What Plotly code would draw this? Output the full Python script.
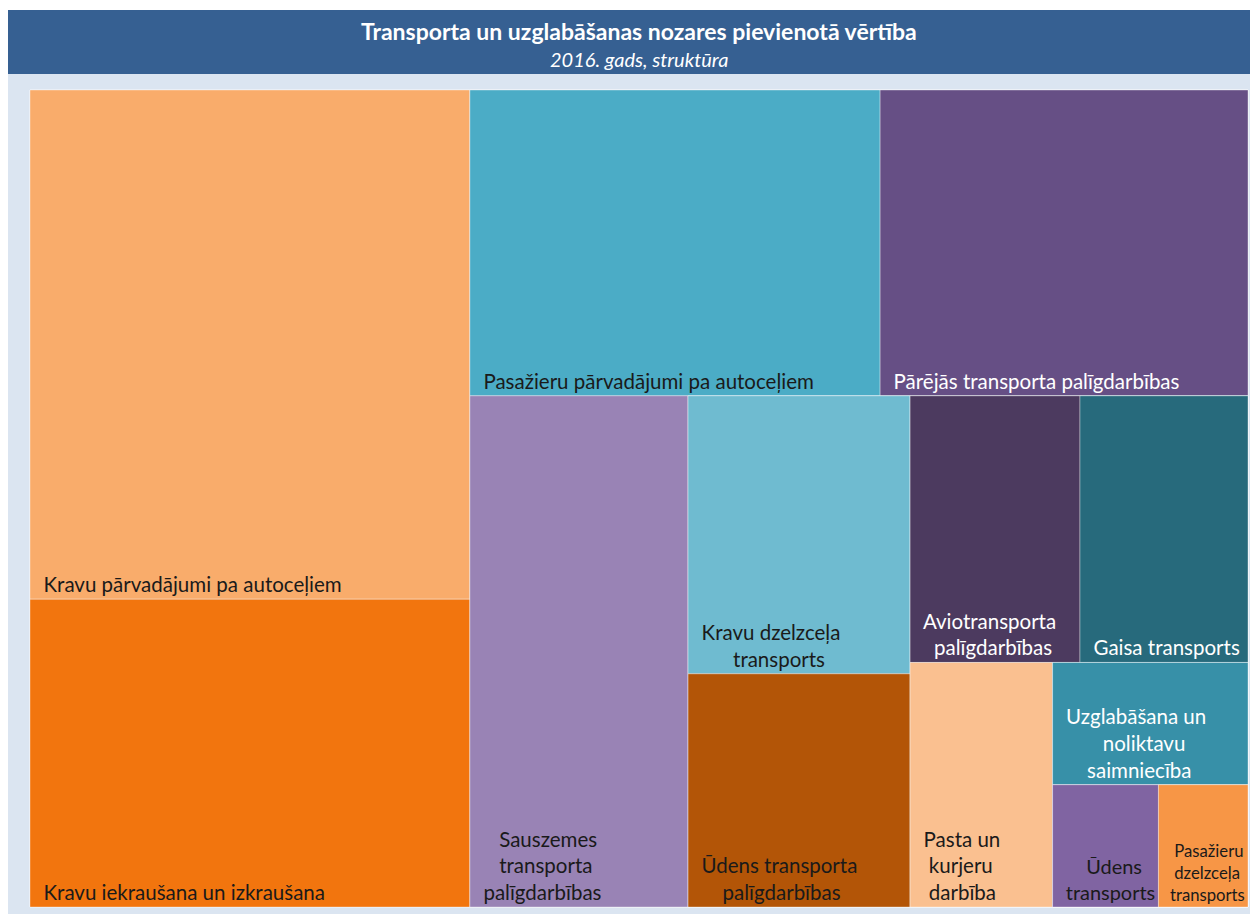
import plotly.graph_objects as go

# ---------------- data ----------------
categories = [
    "Kravu pārvadājumi pa autoceļiem",
    "Kravu iekraušana un izkraušana",
    "Pasažieru pārvadājumi pa autoceļiem",
    "Pārējās transporta palīgdarbības",
    "Sauszemes transporta palīgdarbības",
    "Kravu dzelzceļa transports",
    "Ūdens transporta palīgdarbības",
    "Aviotransporta palīgdarbības",
    "Gaisa transports",
    "Pasta un kurjeru darbība",
    "Uzglabāšana un noliktavu saimniecība",
    "Ūdens transports",
    "Pasažieru dzelzceļa transports",
]
values = [22.5, 13.6, 12.6, 11.3, 11.2, 6.2, 5.2, 4.55, 4.5, 3.5, 2.4, 1.3, 1.1]
tile_lines = [
    ["Kravu pārvadājumi pa autoceļiem"],
    ["Kravu iekraušana un izkraušana"],
    ["Pasažieru pārvadājumi pa autoceļiem"],
    ["Pārējās transporta palīgdarbības"],
    ["Sauszemes", "transporta", "palīgdarbības"],
    ["Kravu dzelzceļa", "transports"],
    ["Ūdens transporta", "palīgdarbības"],
    ["Aviotransporta", "palīgdarbības"],
    ["Gaisa transports"],
    ["Pasta un", "kurjeru", "darbība"],
    ["Uzglabāšana un", "noliktavu", "saimniecība"],
    ["Ūdens", "transports"],
    ["Pasažieru", "dzelzceļa", "transports"],
]
colors = ["#F9AC6B", "#F2750E", "#4BACC6", "#664F85", "#9983B5", "#6FBBD0",
          "#B35507", "#4C3A5F", "#276A7C", "#FAC090", "#3790A8", "#8064A2", "#F79646"]
text_colors = ["#1A1A1A", "#1A1A1A", "#1A1A1A", "#FFFFFF", "#1A1A1A", "#1A1A1A",
               "#1A1A1A", "#FFFFFF", "#FFFFFF", "#1A1A1A", "#FFFFFF", "#1A1A1A", "#1A1A1A"]

title = "Transporta un uzglabāšanas nozares pievienotā vērtība"
subtitle = "2016. gads, struktūra"

# grouping of tiles (indices into categories) that reproduces the tile arrangement
layout_tree = ("root", [("A", [0, 1]),
                        ("R", [("B", [2, 3]),
                               ("C", [4, ("D", [5, 6]),
                                      ("E", [("F", [7, 8]),
                                             ("G", [9, ("H", [10, ("I", [11, 12])])])])])])])

# ---------------- text helpers (approximate glyph widths, em units) ----------------
NB = "\u00a0"
W_CHAR = {" ": 0.193, "i": 0.24, "ī": 0.29, "j": 0.24, "l": 0.24, "ļ": 0.24, "f": 0.32,
          "r": 0.36, "t": 0.35, "s": 0.42, "š": 0.42, "z": 0.45, "ž": 0.45, "c": 0.46,
          "m": 0.84, "w": 0.76, "S": 0.5, "P": 0.57, "K": 0.6, "U": 0.68, "Ū": 0.68,
          "A": 0.66, "G": 0.7}


def text_w(s):
    return sum(W_CHAR.get(ch, 0.53) for ch in s)


def centred_block(lines, lead=2):
    wmax = max(text_w(l) for l in lines)
    out = []
    for l in lines:
        n = int(round((wmax - text_w(l)) / 2 / W_CHAR[" "]))
        out.append(NB * (lead + n) + l)
    return "<br>".join(out)


ids, labels, parents, vals, cols, txt, tcols = [], [], [], [], [], [], []


def walk(node, parent):
    if isinstance(node, int):
        ids.append("leaf%d" % node)
        labels.append(categories[node])
        parents.append(parent)
        vals.append(values[node])
        cols.append(colors[node])
        txt.append(centred_block(tile_lines[node]))
        tcols.append(text_colors[node])
        return
    name, children = node
    ids.append(name)
    labels.append(name)
    parents.append(parent)
    vals.append(0)
    cols.append("#DBE5F1")
    txt.append("")
    tcols.append("#1A1A1A")
    for c in children:
        walk(c, name)


walk(layout_tree, "")

fig = go.Figure(go.Treemap(
    ids=ids, labels=labels, parents=parents, values=vals,
    branchvalues="remainder", sort=False,
    text=txt, textinfo="text", texttemplate="%{text}",
    textposition="bottom left",
    textfont=dict(family="Lato", size=20.5, color=tcols),
    marker=dict(colors=cols, line=dict(width=1, color="rgba(255,255,255,0.35)"),
                pad=dict(t=0, l=0, r=0, b=0)),
    tiling=dict(packing="slice-dice", pad=0),
    pathbar=dict(visible=False),
    hoverinfo="label+value",
    domain=dict(x=[0, 1], y=[0, 1]),
))

# page body has an 8px margin, so figure coordinates are window coordinates - 8
W, H = 1250, 906
ml, mr, mt, mb = 22, 10, 82, 7
pw, ph = W - ml - mr, H - mt - mb


def px_x(x):
    return (x - ml) / pw


def px_y(y):
    return (H - mb - y) / ph


fig.update_layout(
    width=W, height=H,
    margin=dict(l=ml, r=mr, t=mt, b=mb),
    paper_bgcolor="white",
    shapes=[
        dict(type="rect", xref="paper", yref="paper", layer="below",
             x0=px_x(0), x1=px_x(W), y0=px_y(H), y1=px_y(66),
             fillcolor="#DBE5F1", line=dict(width=0)),
        dict(type="rect", xref="paper", yref="paper", layer="below",
             x0=px_x(0), x1=px_x(W), y0=px_y(66), y1=px_y(2),
             fillcolor="#366092", line=dict(width=0)),
    ],
    annotations=[
        dict(text="<b>%s</b>" % title, xref="paper", yref="paper",
             x=px_x(631), y=px_y(23), showarrow=False,
             font=dict(family="Lato", size=23, color="white"),
             xanchor="center", yanchor="middle"),
        dict(text="<i>%s</i>" % subtitle, xref="paper", yref="paper",
             x=px_x(631), y=px_y(51), showarrow=False,
             font=dict(family="Lato", size=20, color="white"),
             xanchor="center", yanchor="middle"),
    ],
)

fig.write_html("out.html")
